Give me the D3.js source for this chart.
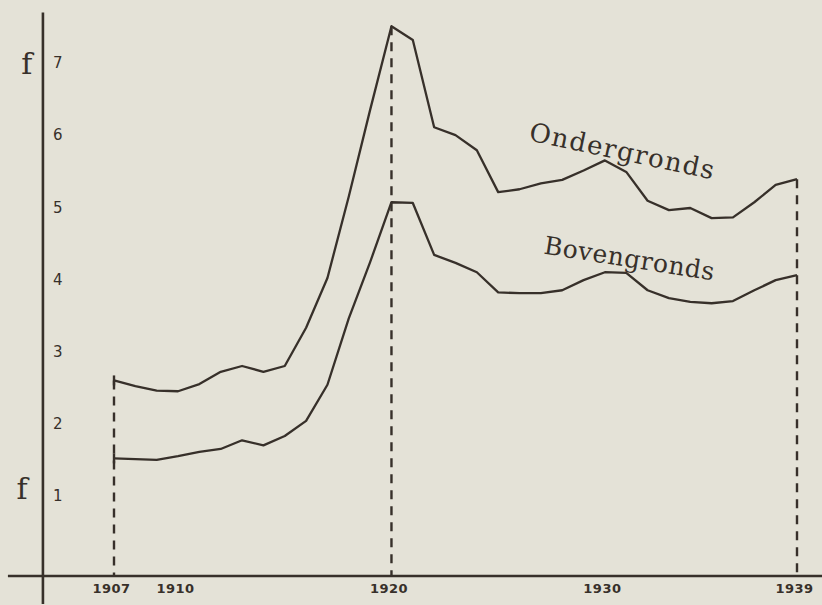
<!DOCTYPE html>
<html>
<head>
<meta charset="utf-8">
<script src="https://cdn.jsdelivr.net/npm/d3@7"></script>
<style>
  body { margin: 0; background: #e4e2d7; }
  svg { display: block; }
</style>
</head>
<body>
<div id="chart"></div>
<script>
// years on the x axis, one point per year
var years = d3.range(1907, 1940);

// values (f per unit)
var ondergronds = [2.60, 2.52, 2.46, 2.45, 2.55, 2.72, 2.80, 2.72, 2.80, 3.33,
  4.02, 5.15, 6.35, 7.51, 7.32, 6.11, 6.00, 5.79, 5.21, 5.25,
  5.33, 5.38, 5.51, 5.65, 5.49, 5.09, 4.96, 4.99, 4.85, 4.86,
  5.07, 5.31, 5.39];
var bovengronds = [1.52, 1.51, 1.50, 1.55, 1.61, 1.65, 1.77, 1.70, 1.83, 2.04,
  2.54, 3.46, 4.24, 5.07, 5.06, 4.34, 4.23, 4.10, 3.82, 3.81,
  3.81, 3.85, 3.99, 4.10, 4.09, 3.85, 3.74, 3.69, 3.67, 3.70,
  3.85, 3.99, 4.06];

var yTicks = [1, 2, 3, 4, 5, 6, 7];
var xTicks = [1907, 1910, 1920, 1930, 1939];
var markYears = [1907, 1920, 1939];

var svgWidth = 822;
var svgHeight = 605;
var ink = "#37302a";

var svg = d3.select("#chart")
  .append("svg")
  .attr("width", svgWidth)
  .attr("height", svgHeight);

var xScale = d3.scaleLinear().domain([1907, 1939]).range([114, 797]);
var yScale = d3.scaleLinear().domain([0, 7]).range([568, 63]);

// axis base sits a little under zero on the drawing
var yBase = -0.11;
var yAxisYear = 1903.67;

// axes lines
svg.append("line")
  .attr("x1", xScale(1902.03)).attr("x2", xScale(1941.2))
  .attr("y1", yScale(yBase)).attr("y2", yScale(yBase))
  .attr("stroke", ink).attr("stroke-width", 2.6);

svg.append("line")
  .attr("x1", xScale(yAxisYear)).attr("x2", xScale(yAxisYear))
  .attr("y1", yScale(7.7)).attr("y2", yScale(-0.5))
  .attr("stroke", ink).attr("stroke-width", 2.6);

// dashed guides
var topOf = {};
years.forEach(function(yr, i) { topOf[yr] = Math.max(ondergronds[i], bovengronds[i]); });

svg.selectAll(".guide").data(markYears).enter().append("line")
  .attr("class", "guide")
  .attr("x1", function(d) { return xScale(d); })
  .attr("x2", function(d) { return xScale(d); })
  .attr("y1", function(d) { return yScale(topOf[d]); })
  .attr("y2", yScale(yBase))
  .attr("stroke", ink)
  .attr("stroke-width", 2.4)
  .attr("stroke-dasharray", "9,7");

// y tick labels (right of the axis)
var leftAxis = d3.axisRight(yScale).tickValues(yTicks).tickSize(0).tickPadding(10)
  .tickFormat(d3.format("d"));
var gy = svg.append("g")
  .attr("transform", `translate(${xScale(yAxisYear)},0)`)
  .call(leftAxis);
gy.select(".domain").remove();
gy.selectAll("text")
  .attr("fill", ink)
  .style("font-family", "DejaVu Sans")
  .style("font-size", "15px");

// x tick labels
var bottomAxis = d3.axisBottom(xScale).tickValues(xTicks).tickSize(0).tickPadding(8)
  .tickFormat(d3.format("d"));
var gx = svg.append("g")
  .attr("transform", `translate(0,${yScale(yBase)})`)
  .call(bottomAxis);
gx.select(".domain").remove();
gx.selectAll("text")
  .attr("fill", ink)
  .attr("dx", "-3")
  .style("font-family", "DejaVu Sans")
  .style("font-weight", "bold")
  .style("font-size", "13px")
  .style("letter-spacing", "0.5px");

// the currency mark f
svg.append("text")
  .attr("x", xScale(1902.92)).attr("y", yScale(7) + 11)
  .attr("text-anchor", "middle")
  .attr("fill", ink)
  .style("font-family", "DejaVu Serif")
  .style("font-size", "30px")
  .text("f");
svg.append("text")
  .attr("x", xScale(1902.69)).attr("y", yScale(1) + 3)
  .attr("text-anchor", "middle")
  .attr("fill", ink)
  .style("font-family", "DejaVu Serif")
  .style("font-size", "30px")
  .text("f");

// lines
var line = d3.line()
  .x(function(d) { return xScale(d[0]); })
  .y(function(d) { return yScale(d[1]); });

[ondergronds, bovengronds].forEach(function(series) {
  var pts = years.map(function(yr, i) { return [yr, series[i]]; });
  svg.append("path")
    .datum(pts)
    .attr("d", line)
    .attr("fill", "none")
    .attr("stroke", ink)
    .attr("stroke-width", 2.3)
    .attr("stroke-linejoin", "round");
  // small serif at the start of each curve
  svg.append("line")
    .attr("x1", xScale(1907)).attr("x2", xScale(1907))
    .attr("y1", yScale(series[0]) - 5).attr("y2", yScale(series[0]) + 5)
    .attr("stroke", ink).attr("stroke-width", 2.4);
});

// series labels, lettered along the curves
svg.append("text")
  .attr("transform", `translate(${xScale(1926.4)},${yScale(5.93)}) rotate(12)`)
  .attr("textLength", 188)
  .attr("fill", ink)
  .style("font-family", "DejaVu Serif")
  .style("font-size", "26px")
  .text("Ondergronds");

svg.append("text")
  .attr("transform", `translate(${xScale(1927.1)},${yScale(4.36)}) rotate(9)`)
  .attr("textLength", 172)
  .attr("fill", ink)
  .style("font-family", "DejaVu Serif")
  .style("font-size", "25px")
  .text("Bovengronds");
</script>
</body>
</html>
